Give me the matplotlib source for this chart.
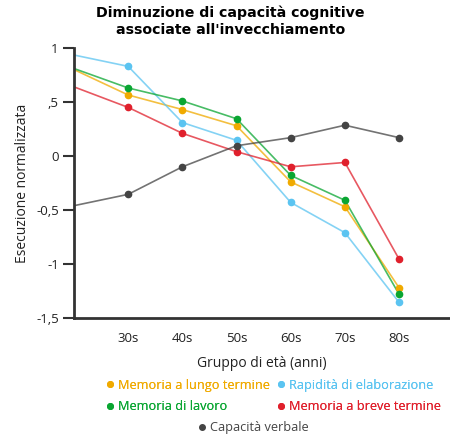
import matplotlib.pyplot as plt
from matplotlib.lines import Line2D

# age groups; the first (20s) sits on the y axis and has no label
age_groups = ["20s", "30s", "40s", "50s", "60s", "70s", "80s"]
tick_labels = ["", "30s", "40s", "50s", "60s", "70s", "80s"]

lungo_termine = [0.80, 0.565, 0.43, 0.28, -0.24, -0.47, -1.22]
rapidita = [0.935, 0.83, 0.31, 0.145, -0.43, -0.71, -1.355]
lavoro = [0.81, 0.63, 0.51, 0.345, -0.18, -0.41, -1.28]
breve_termine = [0.64, 0.45, 0.21, 0.04, -0.10, -0.06, -0.955]
verbale = [-0.46, -0.355, -0.10, 0.095, 0.17, 0.285, 0.17]

y_ticks = [1, 0.5, 0, -0.5, -1, -1.5]
y_tick_labels = ["1", ",5", "0", "-0,5", "-1", "-1,5"]

series = [
    ("Memoria a lungo termine", lungo_termine, "#f0aa00"),
    ("Rapidità di elaborazione", rapidita, "#5bc4f1"),
    ("Memoria di lavoro", lavoro, "#0aa632"),
    ("Memoria a breve termine", breve_termine, "#e0202c"),
    ("Capacità verbale", verbale, "#444444"),
]

plt.rcParams["font.family"] = ["Open Sans", "DejaVu Sans"]

fig = plt.figure(figsize=(4.5, 4.41), dpi=100)
ax = fig.add_axes([74 / 450, 123 / 441, 376 / 450, 270 / 441])

x = list(range(len(age_groups)))
for name, vals, color in series:
    ax.plot(x, vals, color=color, linewidth=1.2, alpha=0.75, zorder=2)
    ax.plot(x[1:], vals[1:], linestyle="none", marker="o", markersize=4.5,
            color=color, zorder=3)

ax.set_xlim(0, 6.94)
ax.set_ylim(-1.5, 1)
ax.set_xticks(x)
ax.set_xticklabels(tick_labels, fontsize=9.5, color="#222222")
ax.tick_params(axis="x", length=0, pad=10)
ax.set_yticks(y_ticks)
ax.set_yticklabels(y_tick_labels, fontsize=9.5, color="#222222")
ax.tick_params(axis="y", length=8, width=1.5, color="#333333", pad=3)

for side in ["top", "right"]:
    ax.spines[side].set_visible(False)
for side in ["left", "bottom"]:
    ax.spines[side].set_linewidth(2)
    ax.spines[side].set_color("#333333")

ax.set_ylabel("Esecuzione normalizzata", fontsize=10, color="#222222", labelpad=4)
ax.set_xlabel("Gruppo di età (anni)", fontsize=10, color="#222222", labelpad=8)

fig.suptitle("Diminuzione di capacità cognitive\nassociate all'invecchiamento",
             fontsize=10.2, fontweight="bold", family="DejaVu Sans",
             y=0.988, x=0.512, linespacing=1.25)

def handle(color):
    return Line2D([], [], linestyle="none", marker="o", markersize=4, color=color)

top = [series[0], series[2], series[1], series[3]]
leg1 = fig.legend([handle(c) for _, _, c in top], [n for n, _, _ in top],
                  ncol=2, loc="center", bbox_to_anchor=(0.605, 0.102),
                  frameon=False, fontsize=9.2, labelcolor="markerfacecolor",
                  handletextpad=0.1, handlelength=1.0, columnspacing=0.4,
                  labelspacing=0.7)
leg2 = fig.legend([handle(series[4][2])], [series[4][0]], loc="center",
                  bbox_to_anchor=(0.56, 0.03), frameon=False, fontsize=9.2,
                  labelcolor="markerfacecolor", handletextpad=0.1,
                  handlelength=1.0)
fig.add_artist(leg1)

fig.savefig("out.png", dpi=100)
